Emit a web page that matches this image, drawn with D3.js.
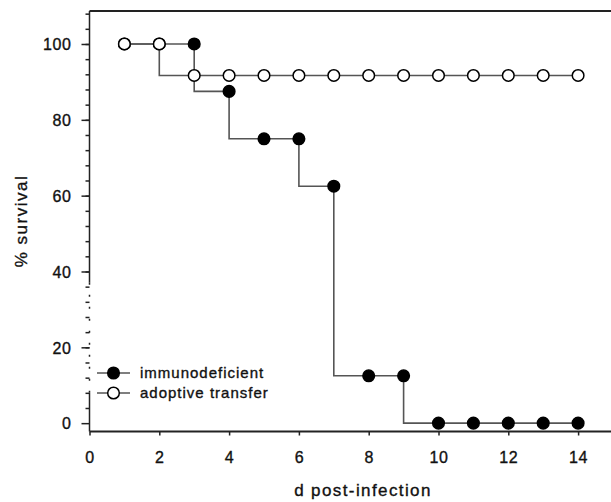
<!DOCTYPE html>
<html>
<head>
<meta charset="utf-8">
<script src="https://cdn.jsdelivr.net/npm/d3@7"></script>
<style>
  body { margin: 0; background: #fff; }
  svg text { font-family: "Liberation Sans", Arial, sans-serif; fill: #111; stroke: #111; stroke-width: 0.35px; }
</style>
</head>
<body>
<svg id="chart"></svg>
<script>
var days = [1, 2, 3, 4, 5, 6, 7, 8, 9, 10, 11, 12, 13, 14];
var immunodeficient = [100, 100, 100, 87.5, 75, 75, 62.5, 12.5, 12.5, 0, 0, 0, 0, 0];
var adoptiveTransfer = [100, 100, 91.7, 91.7, 91.7, 91.7, 91.7, 91.7, 91.7, 91.7, 91.7, 91.7, 91.7, 91.7];
var xTicks = [0, 2, 4, 6, 8, 10, 12, 14];
var yTicks = [0, 20, 40, 60, 80, 100];
var seriesNames = ["immunodeficient", "adoptive transfer"];

function drawChart() {
  var width = 611;
  var height = 502;

  var svg = d3.select("#chart")
    .attr("width", width)
    .attr("height", height);

  var x = d3.scaleLinear().domain([0, 15]).range([89.5, 613]);
  var y = d3.scaleLinear().domain([-2.2, 108.7]).range([431.5, 11]);

  // minor y ticks
  svg.append("g")
    .attr("transform", "translate(89.5,0)")
    .call(d3.axisLeft(y).tickValues(d3.range(4, 109, 4)).tickSize(4).tickFormat(""))
    .call(g => g.select(".domain").remove())
    .call(g => g.selectAll("line").attr("stroke", "#222").attr("stroke-width", 1.5));

  // major y ticks
  svg.append("g")
    .attr("transform", "translate(89.5,0)")
    .call(d3.axisLeft(y).tickValues(yTicks).tickSize(8).tickPadding(10))
    .call(g => g.select(".domain").remove())
    .call(g => g.selectAll("line").attr("stroke", "#222").attr("stroke-width", 1.5))
    .call(g => g.selectAll("text").style("font-size", "16px").style("letter-spacing", "0.6px").attr("dy", "0.36em"));

  // y axis line, with the faded stretch of the original
  svg.append("line")
    .attr("x1", 89.5).attr("x2", 89.5)
    .attr("y1", y(108.7)).attr("y2", y(37))
    .attr("stroke", "#222").attr("stroke-width", 1.5);
  svg.append("line")
    .attr("x1", 89.5).attr("x2", 89.5)
    .attr("y1", y(37)).attr("y2", y(8))
    .attr("stroke", "#222").attr("stroke-width", 1.5)
    .attr("stroke-dasharray", "2,10");
  svg.append("line")
    .attr("x1", 89.5).attr("x2", 89.5)
    .attr("y1", y(8)).attr("y2", y(-2.2))
    .attr("stroke", "#222").attr("stroke-width", 1.5);

  // top border
  svg.append("line")
    .attr("x1", 89.5).attr("x2", width)
    .attr("y1", 11).attr("y2", 11)
    .attr("stroke", "#222").attr("stroke-width", 2);

  // x axis
  svg.append("g")
    .attr("transform", "translate(0,431.5)")
    .call(d3.axisBottom(x).tickValues(xTicks).tickSize(4).tickPadding(16))
    .call(g => g.select(".domain").attr("d", "M89.5,0H" + width).attr("stroke", "#222").attr("stroke-width", 1.8))
    .call(g => g.selectAll("line").attr("stroke", "#222").attr("stroke-width", 1.5))
    .call(g => g.selectAll("text").style("font-size", "16px").style("letter-spacing", "0.6px"));

  svg.append("text")
    .attr("x", 363)
    .attr("y", 496)
    .attr("text-anchor", "middle")
    .style("font-size", "17px")
    .style("letter-spacing", "1.4px")
    .text("d post-infection");

  svg.append("text")
    .attr("transform", "translate(27,221) rotate(-90)")
    .attr("text-anchor", "middle")
    .style("font-size", "17px")
    .style("letter-spacing", "1.5px")
    .text("% survival");

  var line = d3.line()
    .x(d => x(d[0]))
    .y(d => y(d[1]))
    .curve(d3.curveStepBefore);

  var series = [
    { name: seriesNames[0], values: immunodeficient, fill: "#000" },
    { name: seriesNames[1], values: adoptiveTransfer, fill: "#fff" }
  ];

  series.forEach(s => {
    var pts = days.map((d, i) => [d, s.values[i]]);
    svg.append("path")
      .datum(pts)
      .attr("d", line)
      .attr("fill", "none")
      .attr("stroke", "#555")
      .attr("stroke-width", 1.6);
    svg.selectAll(null)
      .data(pts)
      .enter()
      .append("circle")
        .attr("cx", d => x(d[0]))
        .attr("cy", d => y(d[1]))
        .attr("r", 5.8)
        .attr("fill", s.fill)
        .attr("stroke", "#000")
        .attr("stroke-width", 1.5);
  });

  // legend
  var legend = svg.append("g");
  series.forEach((s, i) => {
    var ly = 373 + i * 20;
    legend.append("line")
      .attr("x1", 97).attr("x2", 130)
      .attr("y1", ly).attr("y2", ly)
      .attr("stroke", "#555").attr("stroke-width", 1.6);
    legend.append("circle")
      .attr("cx", 113.5).attr("cy", ly).attr("r", 5.8)
      .attr("fill", s.fill).attr("stroke", "#000").attr("stroke-width", 1.5);
    legend.append("text")
      .attr("x", 140).attr("y", ly)
      .attr("dy", "0.35em")
      .style("font-size", "15px")
      .style("letter-spacing", "1px")
      .text(s.name);
  });
}

drawChart();
</script>
</body>
</html>
